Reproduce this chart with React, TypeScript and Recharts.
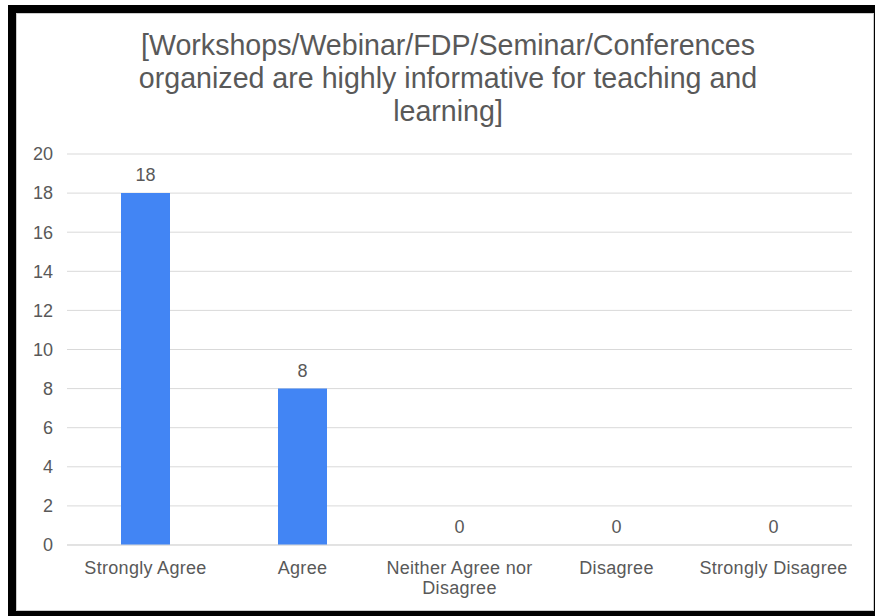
import React from 'react';
import { ComposedChart, Bar, Line, XAxis, YAxis, CartesianGrid, LabelList, Text } from 'recharts';

const categories = ['Strongly Agree', 'Agree', 'Neither Agree nor Disagree', 'Disagree', 'Strongly Disagree'];
const responses = [18, 8, 0, 0, 0];
const yTicks = [0, 2, 4, 6, 8, 10, 12, 14, 16, 18, 20];
const titleLines = [
    '[Workshops/Webinar/FDP/Seminar/Conferences',
    'organized are highly informative for teaching and',
    'learning]',
];

const FONT = '"Liberation Sans", Arial, sans-serif';
const TEXT_COLOR = '#595959';

const data = categories.map((name, i) => ({ name, value: responses[i] }));

// wraps long category names to two lines, like the sheet export does
const CategoryTick = (props: any) => {
    const { x, y, payload } = props;
    return (
        <Text
            x={x}
            y={y + 8}
            width={155}
            textAnchor="middle"
            verticalAnchor="start"
            lineHeight={20}
            fill={TEXT_COLOR}
            fontSize={18}
            letterSpacing={0.3}
            fontFamily={FONT}
        >
            {payload.value}
        </Text>
    );
};

export default function App() {
    return (
        <div style={{ position: 'absolute', left: 0, top: 0, width: 875, height: 616, background: '#fff', fontFamily: FONT }}>
            <div style={{ position: 'absolute', left: 8, top: 5, width: 867, height: 611, background: '#000' }} />
            <div
                style={{
                    position: 'absolute',
                    left: 16,
                    top: 13,
                    width: 858,
                    height: 598,
                    background: '#fff',
                    border: '1px solid #cccccc',
                    boxSizing: 'border-box',
                }}
            >
                <div
                    style={{
                        position: 'absolute',
                        left: 3,
                        top: 15,
                        width: 856,
                        textAlign: 'center',
                        fontSize: 28.6,
                        lineHeight: '33px',
                        color: TEXT_COLOR,
                    }}
                >
                    {titleLines.map((line) => (
                        <div key={line}>{line}</div>
                    ))}
                </div>
                <div style={{ position: 'absolute', left: 0, top: 0 }}>
                    <ComposedChart width={856} height={596} data={data} margin={{ top: 140, right: 21, left: 0, bottom: 0 }}>
                        <CartesianGrid vertical={false} stroke="#d9d9d9" />
                        <XAxis
                            dataKey="name"
                            height={65}
                            interval={0}
                            tickLine={false}
                            axisLine={{ stroke: '#d9d9d9' }}
                            tick={<CategoryTick />}
                        />
                        <YAxis
                            width={50}
                            domain={[0, 20]}
                            ticks={yTicks}
                            tickLine={false}
                            axisLine={false}
                            tick={{ fill: TEXT_COLOR, fontSize: 18, fontFamily: FONT, dx: -6 }}
                        />
                        <Bar dataKey="value" fill="#4285f4" barSize={49} isAnimationActive={false} />
                        {/* invisible series so zero values still get their labels */}
                        <Line dataKey="value" stroke="none" dot={false} activeDot={false} isAnimationActive={false}>
                            <LabelList
                                dataKey="value"
                                position="top"
                                offset={12}
                                fill={TEXT_COLOR}
                                fontSize={18}
                                fontFamily={FONT}
                            />
                        </Line>
                    </ComposedChart>
                </div>
            </div>
        </div>
    );
}
